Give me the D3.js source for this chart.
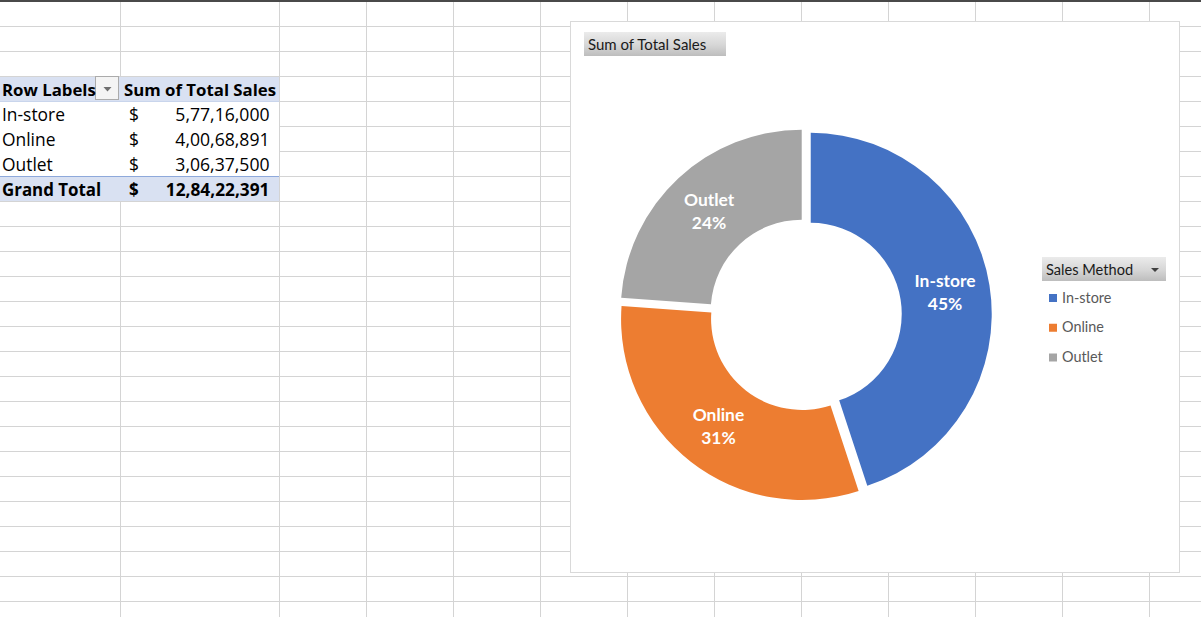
<!DOCTYPE html>
<html>
<head>
<meta charset="utf-8">
<script src="https://cdn.jsdelivr.net/npm/d3@7"></script>
<style>
  html, body { margin: 0; padding: 0; background: #fff; }
  svg { display: block; }
  text { font-family: Lato, "Open Sans", sans-serif; }
</style>
</head>
<body>
<svg id="chart" width="1201" height="617"></svg>
<script>
// ---- data ----
const categories = ["In-store", "Online", "Outlet"];
const totalSales = [57716000, 40068891, 30637500];
const tableHeaders = ["Row Labels", "Sum of Total Sales"];
const grandTotalLabel = "Grand Total";
const chartTitle = "Sum of Total Sales";
const legendTitle = "Sales Method";
const colors = ["#4472C4", "#ED7D31", "#A5A5A5"];

// Indian digit grouping formatter (e.g. 5,77,16,000)
function indianFormat(n) {
  const s = String(Math.round(n));
  if (s.length <= 3) return s;
  const last3 = s.slice(-3);
  let rest = s.slice(0, -3);
  const parts = [];
  while (rest.length > 2) { parts.unshift(rest.slice(-2)); rest = rest.slice(0, -2); }
  if (rest.length) parts.unshift(rest);
  return parts.join(",") + "," + last3;
}

const svg = d3.select("#chart");
const W = 1201, H = 617;
const defs = svg.append("defs");
const grad = defs.append("linearGradient").attr("id", "btnGrad")
  .attr("x1", 0).attr("y1", 0).attr("x2", 0).attr("y2", 1);
grad.append("stop").attr("offset", "0%").attr("stop-color", "#EBEBEB");
grad.append("stop").attr("offset", "55%").attr("stop-color", "#D6D6D6");
grad.append("stop").attr("offset", "100%").attr("stop-color", "#BDBDBD");

// ---- spreadsheet grid ----
const colLines = [120, 279].concat(d3.range(0, 11).map(i => 366 + 87 * i));
const rowLines = d3.range(0, 24).map(i => 26 + 25 * i);
const grid = svg.append("g");
grid.selectAll("line.v").data(colLines).join("line")
  .attr("x1", d => d + 0.5).attr("x2", d => d + 0.5)
  .attr("y1", 2).attr("y2", H)
  .attr("stroke", "#D4D4D4");
grid.selectAll("line.h").data(rowLines).join("line")
  .attr("x1", 0).attr("x2", W)
  .attr("y1", d => d + 0.5).attr("y2", d => d + 0.5)
  .attr("stroke", "#D4D4D4");
svg.append("rect").attr("x", 0).attr("y", 0).attr("width", W).attr("height", 2).attr("fill", "#4A4A4A");

// ---- pivot table ----
const tbl = svg.append("g");
const rowH = 25, tTop = 76, tW = 279;
tbl.append("rect").attr("x", 0).attr("y", tTop + 1).attr("width", tW).attr("height", rowH * 5 - 1).attr("fill", "#fff");
tbl.append("rect").attr("x", 0).attr("y", tTop + 1).attr("width", tW).attr("height", rowH - 1).attr("fill", "#D9E1F2");
tbl.append("rect").attr("x", 0).attr("y", tTop + rowH * 4 + 1).attr("width", tW).attr("height", rowH - 1).attr("fill", "#D9E1F2");
tbl.append("line").attr("x1", 0).attr("x2", tW).attr("y1", tTop + rowH * 4 + 0.5).attr("y2", tTop + rowH * 4 + 0.5).attr("stroke", "#8EA9DB");
tbl.append("line").attr("x1", 0).attr("x2", tW).attr("y1", tTop + rowH + 0.5).attr("y2", tTop + rowH + 0.5).attr("stroke", "#C9D5EC");

// dropdown button in header
tbl.append("rect").attr("x", 95.5).attr("y", 76.5).attr("width", 23).attr("height", 23)
  .attr("fill", "#F4F4F4").attr("stroke", "#ABABAB");
tbl.append("path").attr("d", "M103.5,87 L111.5,87 L107.5,91.5 Z").attr("fill", "#6F6F6F");

const tableFont = "'Open Sans', sans-serif";
function cellText(x, y, txt, bold, anchor, size) {
  tbl.append("text").attr("x", x).attr("y", y).text(txt)
    .style("font-family", tableFont)
    .attr("font-size", size).attr("font-weight", bold ? 700 : 400)
    .attr("text-anchor", anchor || "start").attr("fill", "#000");
}
cellText(2, tTop + 19.5, tableHeaders[0], true, "start", 16.8);
cellText(124, tTop + 19.5, tableHeaders[1], true, "start", 16.8);
categories.forEach((c, i) => {
  const y = tTop + rowH * (i + 1) + 19.5;
  cellText(2, y, c, false, "start", 17.4);
  cellText(129, y, "$", false, "start", 17.4);
  cellText(269.5, y, indianFormat(totalSales[i]), false, "end", 17.6);
});
const grandTotal = d3.sum(totalSales);
cellText(2, tTop + rowH * 4 + 19.5, grandTotalLabel, true, "start", 16.9);
cellText(129, tTop + rowH * 4 + 19.5, "$", true, "start", 16.9);
cellText(269.5, tTop + rowH * 4 + 19.5, indianFormat(grandTotal), true, "end", 17.3);

// ---- chart area ----
const chart = svg.append("g");
chart.append("rect").attr("x", 570.5).attr("y", 21.5).attr("width", 609).attr("height", 551)
  .attr("fill", "#fff").attr("stroke", "#D9D9D9");

// title button
chart.append("rect").attr("x", 584).attr("y", 32).attr("width", 142).attr("height", 24).attr("fill", "url(#btnGrad)");
chart.append("text").attr("x", 588).attr("y", 49.5).text(chartTitle)
  .attr("font-size", 15).attr("fill", "#1A1A1A");

// donut
const cx = 805.4, cy = 314.7, R = 181, r = 91, explode = 5.4;
const pie = d3.pie().sort(null).value(d => d);
const arcs = pie(totalSales);
const arc = d3.arc().innerRadius(r).outerRadius(R);
const donut = chart.append("g").attr("transform", `translate(${cx},${cy})`);
const slices = donut.selectAll("g.slice").data(arcs).join("g")
  .attr("transform", d => {
    const m = (d.startAngle + d.endAngle) / 2;
    return `translate(${explode * Math.sin(m)},${-explode * Math.cos(m)})`;
  });
slices.append("path").attr("d", arc).attr("fill", (d, i) => colors[i]);
slices.each(function(d, i) {
  const [lx, ly] = arc.centroid(d);
  const t = d3.select(this).append("text")
    .attr("text-anchor", "middle").attr("fill", "#fff")
    .attr("font-size", 17.4).attr("font-weight", 700);
  t.append("tspan").attr("x", lx).attr("y", ly - 5.5).text(categories[i]);
  t.append("tspan").attr("x", lx).attr("y", ly + 17.5).text(Math.round(totalSales[i] / grandTotal * 100) + "%");
});

// legend
const lg = chart.append("g");
lg.append("rect").attr("x", 1042).attr("y", 257).attr("width", 124).attr("height", 24).attr("fill", "url(#btnGrad)");
lg.append("text").attr("x", 1046).attr("y", 274.5).text(legendTitle).attr("font-size", 14.6).attr("fill", "#1A1A1A");
lg.append("path").attr("d", "M1151,268 L1159,268 L1155,272 Z").attr("fill", "#404040");
const legY = d3.scalePoint().domain(categories).range([298, 357.5]);
const items = lg.selectAll("g.item").data(categories).join("g")
  .attr("transform", d => `translate(0,${legY(d)})`);
items.append("rect").attr("x", 1049).attr("y", -4).attr("width", 8).attr("height", 8)
  .attr("fill", (d, i) => colors[i]);
items.append("text").attr("x", 1062).attr("y", 4.5).text(d => d)
  .attr("font-size", 14.4).attr("fill", "#595959");
</script>
</body>
</html>
